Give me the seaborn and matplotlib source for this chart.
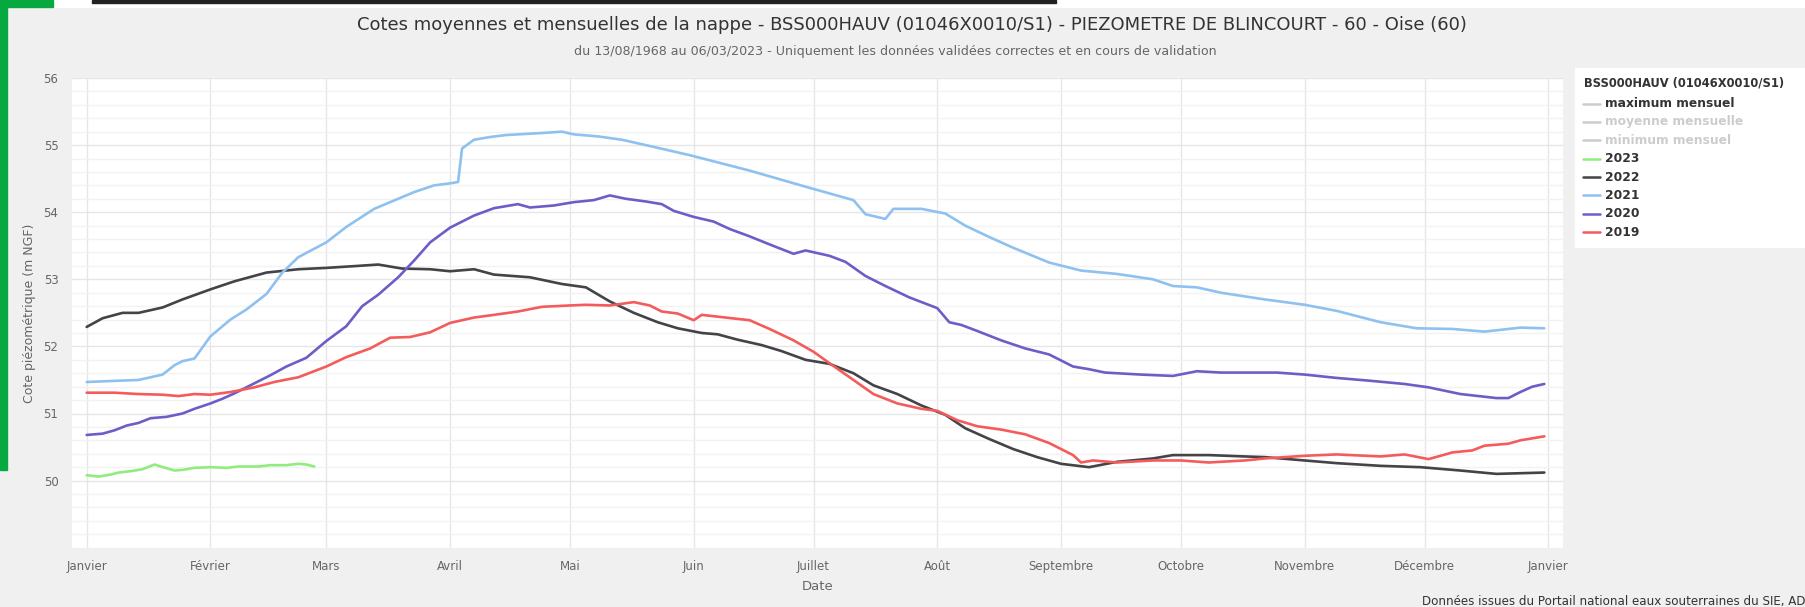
import pandas as pd
import numpy as np
import seaborn as sns
import matplotlib.pyplot as plt
from matplotlib.lines import Line2D
from matplotlib.patches import Rectangle
from matplotlib.ticker import MultipleLocator

W, H = 1805, 607

# Day offsets from 1 January (leap-year axis) and water levels in m NGF
DAYS_2023 = [0, 3, 6, 8, 11, 14, 17, 18, 22, 24, 27, 31, 35, 38, 43, 46, 50, 53, 55, 57]
LEVEL_2023 = [50.08, 50.06, 50.09, 50.12, 50.14, 50.17, 50.24, 50.22, 50.15, 50.16,
              50.19, 50.20, 50.19, 50.21, 50.21, 50.23, 50.23, 50.25, 50.24, 50.21]

DAYS_2022 = [0, 4, 9, 13, 19, 24, 31, 37, 45, 53, 60, 68, 73, 79, 86, 91, 97, 102, 111,
             119, 125, 131, 137, 143, 148, 154, 158, 163, 169, 174, 180, 186, 192, 197,
             203, 209, 215, 220, 226, 232, 238, 244, 251, 258, 267, 272, 281, 290, 295,
             305, 313, 324, 334, 344, 353, 359, 365]
LEVEL_2022 = [52.29, 52.42, 52.50, 52.50, 52.58, 52.70, 52.85, 52.97, 53.10, 53.15, 53.17,
              53.20, 53.22, 53.16, 53.15, 53.12, 53.15, 53.07, 53.03, 52.93, 52.88, 52.67,
              52.50, 52.36, 52.27, 52.20, 52.18, 52.10, 52.02, 51.93, 51.80, 51.74, 51.60,
              51.42, 51.29, 51.12, 50.98, 50.78, 50.62, 50.47, 50.35, 50.25, 50.20, 50.28,
              50.33, 50.38, 50.38, 50.36, 50.35, 50.30, 50.26, 50.22, 50.20, 50.15, 50.10,
              50.11, 50.12]

DAYS_2021 = [0, 13, 19, 22, 24, 27, 31, 36, 40, 45, 49, 53, 60, 65, 72, 76, 82, 87, 91,
             93, 94, 97, 101, 105, 114, 119, 122, 128, 134, 140, 151, 166, 180, 192, 195,
             200, 202, 209, 215, 220, 226, 232, 241, 249, 258, 267, 272, 278, 284, 295,
             305, 313, 324, 333, 342, 350, 359, 365]
LEVEL_2021 = [51.47, 51.50, 51.58, 51.72, 51.78, 51.82, 52.15, 52.40, 52.55, 52.78, 53.10,
              53.33, 53.55, 53.78, 54.05, 54.15, 54.30, 54.40, 54.43, 54.45, 54.95, 55.08,
              55.12, 55.15, 55.18, 55.20, 55.16, 55.13, 55.08, 55.00, 54.85, 54.62, 54.38,
              54.18, 53.97, 53.90, 54.05, 54.05, 53.98, 53.80, 53.63, 53.47, 53.25, 53.13,
              53.08, 53.00, 52.90, 52.88, 52.80, 52.70, 52.62, 52.53, 52.36, 52.27, 52.26,
              52.22, 52.28, 52.27]

DAYS_2020 = [0, 4, 7, 10, 13, 16, 20, 24, 27, 31, 34, 37, 42, 46, 50, 55, 60, 65, 69, 73,
             78, 82, 86, 91, 97, 102, 108, 111, 117, 122, 127, 131, 135, 140, 144, 147,
             152, 157, 161, 166, 171, 177, 180, 186, 190, 195, 200, 206, 213, 216, 219,
             223, 229, 235, 241, 247, 251, 255, 264, 272, 278, 284, 293, 298, 305, 313,
             321, 330, 336, 344, 353, 356, 359, 362, 365]
LEVEL_2020 = [50.68, 50.70, 50.75, 50.82, 50.86, 50.93, 50.95, 51.00, 51.07, 51.15, 51.22,
              51.30, 51.45, 51.57, 51.70, 51.83, 52.08, 52.30, 52.60, 52.77, 53.03, 53.28,
              53.55, 53.77, 53.95, 54.06, 54.12, 54.07, 54.10, 54.15, 54.18, 54.25, 54.20,
              54.16, 54.12, 54.02, 53.93, 53.86, 53.75, 53.64, 53.52, 53.38, 53.43, 53.35,
              53.26, 53.05, 52.90, 52.73, 52.57, 52.36, 52.32, 52.23, 52.09, 51.97, 51.88,
              51.70, 51.66, 51.61, 51.58, 51.56, 51.63, 51.61, 51.61, 51.61, 51.58, 51.53,
              51.49, 51.44, 51.39, 51.29, 51.23, 51.23, 51.32, 51.40, 51.44]

DAYS_2019 = [0, 7, 13, 19, 23, 27, 31, 36, 42, 47, 53, 60, 65, 71, 76, 81, 86, 91, 97, 102,
             108, 114, 121, 125, 131, 137, 141, 144, 148, 152, 154, 160, 166, 171, 177,
             182, 186, 192, 197, 203, 209, 213, 218, 223, 229, 235, 241, 247, 249, 252,
             258, 267, 274, 281, 290, 295, 305, 313, 324, 330, 336, 342, 347, 350, 356,
             359, 365]
LEVEL_2019 = [51.31, 51.31, 51.29, 51.28, 51.26, 51.29, 51.28, 51.32, 51.39, 51.47, 51.54,
              51.70, 51.84, 51.97, 52.13, 52.14, 52.21, 52.35, 52.43, 52.47, 52.52, 52.59,
              52.61, 52.62, 52.61, 52.66, 52.61, 52.52, 52.49, 52.39, 52.47, 52.43, 52.39,
              52.26, 52.09, 51.92, 51.75, 51.50, 51.29, 51.15, 51.07, 51.04, 50.90, 50.81,
              50.76, 50.69, 50.56, 50.38, 50.27, 50.30, 50.27, 50.30, 50.30, 50.27, 50.30,
              50.33, 50.37, 50.39, 50.36, 50.39, 50.32, 50.42, 50.45, 50.52, 50.55, 50.60,
              50.66]

YEARS = ['2023', '2022', '2021', '2020', '2019']
COLORS = ['#90ed7d', '#434348', '#8fc1f0', '#6b5fc7', '#f45b5b']
HIDDEN = ['maximum mensuel', 'moyenne mensuelle', 'minimum mensuel']
MONTHS = ['Janvier', 'Février', 'Mars', 'Avril', 'Mai', 'Juin', 'Juillet', 'Août',
          'Septembre', 'Octobre', 'Novembre', 'Décembre', 'Janvier']

TITLE = ("Cotes moyennes et mensuelles de la nappe - BSS000HAUV (01046X0010/S1) - "
         "PIEZOMETRE DE BLINCOURT - 60 - Oise (60)")
SUBTITLE = ("du 13/08/1968 au 06/03/2023 - Uniquement les données validées correctes "
            "et en cours de validation")
CREDIT = "Données issues du Portail national eaux souterraines du SIE, ADES"
LEGEND_TITLE = "BSS000HAUV (01046X0010/S1)"

FONT = ['DejaVu Sans']


def build_frame():
    start = pd.Timestamp('2020-01-01')
    series = {
        '2023': (DAYS_2023, LEVEL_2023),
        '2022': (DAYS_2022, LEVEL_2022),
        '2021': (DAYS_2021, LEVEL_2021),
        '2020': (DAYS_2020, LEVEL_2020),
        '2019': (DAYS_2019, LEVEL_2019),
    }
    parts = []
    for year, (days, levels) in series.items():
        parts.append(pd.DataFrame({
            'date': start + pd.to_timedelta(days, unit='D'),
            'cote': levels,
            'annee': year,
        }))
    return pd.concat(parts, ignore_index=True)


def fx(px):
    return px / W


def fy(py):
    return 1 - py / H


def main():
    sns.set_style('white')
    plt.rcParams['font.family'] = FONT

    df = build_frame()

    fig = plt.figure(figsize=(W / 100, H / 100), dpi=100, facecolor='#f0f0f0')

    # page decorations at the top-left
    fig.add_artist(Rectangle((fx(53), fy(7)), 1, 7 / H, transform=fig.transFigure,
                             color='white', zorder=0))
    fig.add_artist(Rectangle((fx(92), fy(2.5)), fx(1056 - 92), 2.5 / H,
                             transform=fig.transFigure, color='#222222', zorder=1))
    fig.add_artist(Rectangle((0, fy(7)), fx(53), 7 / H, transform=fig.transFigure,
                             color='#06a940', zorder=1))
    fig.add_artist(Rectangle((0, fy(470)), fx(7), 470 / H, transform=fig.transFigure,
                             color='#06a940', zorder=1))

    left, right, top, bottom = 72.3, 1563.3, 78, 547.7
    ax = fig.add_axes([fx(left), fy(bottom), fx(right - left), (bottom - top) / H])
    ax.set_facecolor('white')

    sns.lineplot(data=df, x='date', y='cote', hue='annee', hue_order=YEARS,
                 palette=dict(zip(YEARS, COLORS)), estimator=None, legend=False,
                 linewidth=1.9, ax=ax)

    month_ticks = pd.date_range('2020-01-01', '2021-01-01', freq='MS')
    ax.set_xlim(pd.Timestamp('2020-01-01') - pd.Timedelta(days=3.6),
                pd.Timestamp('2021-01-01') + pd.Timedelta(days=3.75))
    ax.set_xticks(month_ticks)
    ax.set_xticklabels(MONTHS)
    ax.set_ylim(49, 56)
    ax.set_yticks(range(50, 57))
    ax.yaxis.set_minor_locator(MultipleLocator(0.2))

    ax.grid(True, which='major', axis='both', color='#e6e6e6', linewidth=1)
    ax.grid(True, which='minor', axis='y', color='#f2f2f2', linewidth=1)
    ax.set_axisbelow(True)
    for s in ax.spines.values():
        s.set_visible(False)
    ax.tick_params(which='both', length=0)
    ax.tick_params(axis='x', pad=9, labelsize=8.5, labelcolor='#666666')
    ax.tick_params(axis='y', pad=10, labelsize=8.5, labelcolor='#666666')

    ax.set_xlabel('Date', fontsize=9.5, color='#666666')
    ax.xaxis.set_label_coords((818 - left) / (right - left), -(586 - bottom) / (bottom - top))
    ax.xaxis.label.set_va('center')
    ax.set_ylabel('Cote piézométrique (m NGF)', fontsize=9, color='#666666')
    ax.yaxis.set_label_coords(-(left - 30) / (right - left), 0.5)
    ax.yaxis.label.set_va('center')

    fig.text(fx(912), fy(25), TITLE, ha='center', va='center', fontsize=13,
             color='#333333')
    fig.text(fx(895), fy(52), SUBTITLE, ha='center', va='center', fontsize=9.1,
             color='#666666')
    fig.text(fx(1422), fy(601), CREDIT, ha='left', va='center', fontsize=8.6,
             color='#333333')

    # legend box on the right
    fig.add_artist(Rectangle((fx(1575), fy(247)), 1, (247 - 68) / H,
                             transform=fig.transFigure, color='white', zorder=1))
    fig.text(fx(1584), fy(83), LEGEND_TITLE, ha='left', va='center', fontsize=8.3,
             fontweight='bold', color='#333333', zorder=3)
    labels = HIDDEN + YEARS
    handle_colors = ['#cccccc'] * 3 + COLORS
    text_colors = ['#333333', '#cccccc', '#cccccc'] + ['#333333'] * 5
    for i, (lab, hc, tc) in enumerate(zip(labels, handle_colors, text_colors)):
        y = 103.5 + i * 18.4
        fig.add_artist(Line2D([fx(1583), fx(1600)], [fy(y), fy(y)],
                              transform=fig.transFigure, color=hc, linewidth=1.8,
                              zorder=3))
        fig.text(fx(1605), fy(y), lab, ha='left', va='center', fontsize=8.8,
                 fontweight='bold', color=tc, zorder=3)

    fig.savefig('out.png', dpi=100, facecolor=fig.get_facecolor())
    plt.close(fig)


if __name__ == "__main__":
    main()
